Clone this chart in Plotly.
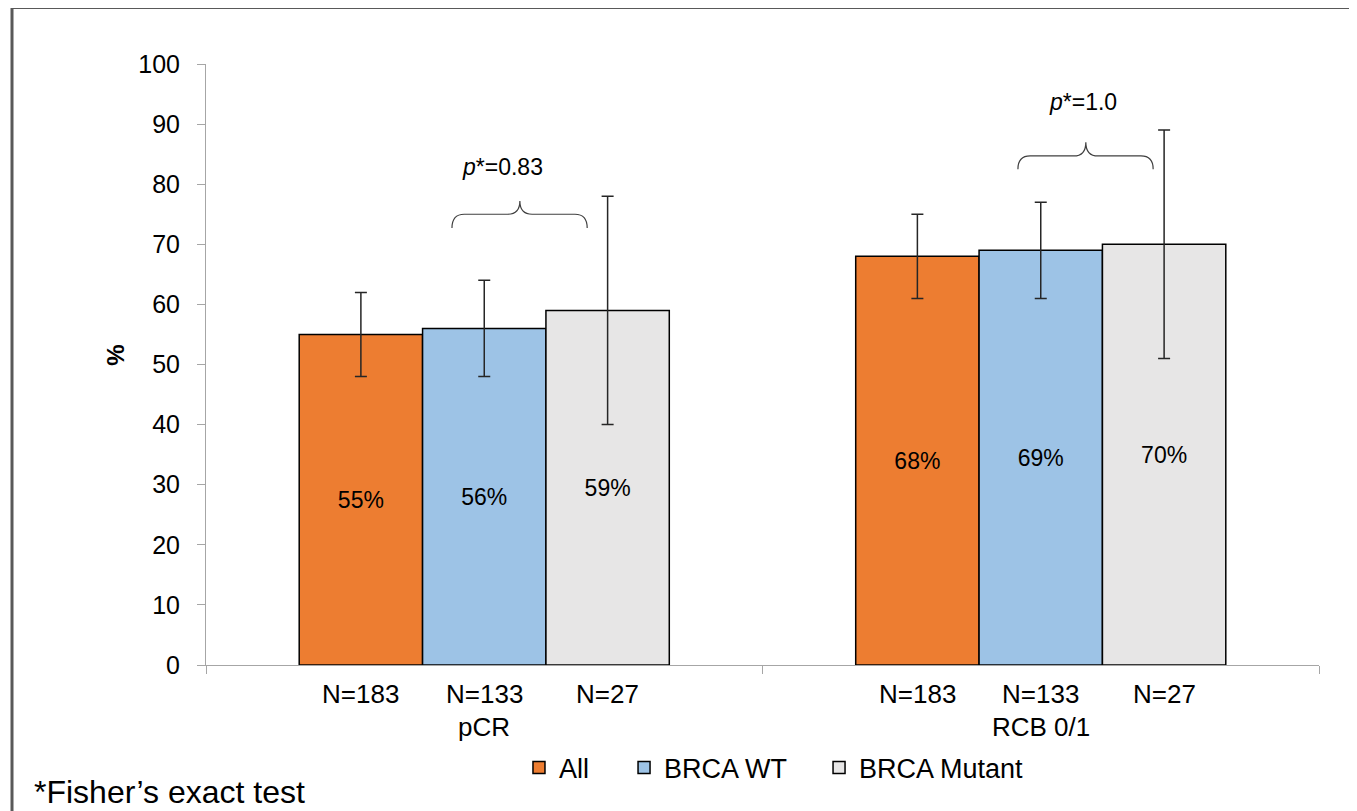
import plotly.graph_objects as go

# ---- data ----
groups = ["pCR", "RCB 0/1"]
series = ["All", "BRCA WT", "BRCA Mutant"]
values = {
    "All": [55, 68],
    "BRCA WT": [56, 69],
    "BRCA Mutant": [59, 70],
}
err_plus = {
    "All": [7, 7],
    "BRCA WT": [8, 8],
    "BRCA Mutant": [19, 19],
}
err_minus = {
    "All": [7, 7],
    "BRCA WT": [8, 8],
    "BRCA Mutant": [19, 19],
}
n_labels = {
    "All": ["N=183", "N=183"],
    "BRCA WT": ["N=133", "N=133"],
    "BRCA Mutant": ["N=27", "N=27"],
}
p_values = ["0.83", "1.0"]
y_ticks = list(range(0, 101, 10))

# ---- styles ----
colors = {"All": "#ED7D31", "BRCA WT": "#9DC3E6", "BRCA Mutant": "#E7E6E6"}
FONT = "Liberation Sans, Arial, sans-serif"
AXIS_GRAY = "#A6A6A6"
BARGAP = 0.335
bar_w = (1 - BARGAP) / len(series)
legend_ids = ["legend", "legend2", "legend3"]
legend_x = [0.2812, 0.3756, 0.5508]

fig = go.Figure()
xs = list(range(len(groups)))
for s, lid in zip(series, legend_ids):
    fig.add_trace(go.Bar(
        name=s,
        x=xs,
        y=values[s],
        legend=lid,
        marker=dict(color=colors[s], line=dict(color="#000000", width=1.5)),
        error_y=dict(type="data", symmetric=False, array=err_plus[s],
                     arrayminus=err_minus[s], color="#262626",
                     thickness=1.5, width=6),
        text=[f"{v}%" for v in values[s]],
        textposition="inside",
        insidetextanchor="middle",
        textangle=0,
        textfont=dict(family=FONT, size=23, color="#000000"),
        cliponaxis=False,
        hoverinfo="skip",
    ))

annotations = []
# N labels under each bar
for j, s in enumerate(series):
    for i, g in enumerate(groups):
        annotations.append(dict(
            x=i + (j - 1) * bar_w, y=-0.0483, xref="x", yref="paper",
            text=n_labels[s][i], showarrow=False,
            xanchor="center", yanchor="middle",
            font=dict(family=FONT, size=26, color="#000000"),
        ))
# group labels
for i, g in enumerate(groups):
    annotations.append(dict(
        x=i, y=-0.1032, xref="x", yref="paper", text=g, showarrow=False,
        xanchor="center", yanchor="middle",
        font=dict(family=FONT, size=26, color="#000000"),
    ))

# braces with p-values
brace_geom = [
    # x0, xm, x1, y_end, y_h, y_tip, text_x, text_y
    (-0.058, 0.064, 0.185, 72.7, 75.0, 77.2, 0.032, 82.9),
    (0.959, 1.081, 1.202, 82.5, 84.7, 87.0, 1.076, 93.7),
]
shapes = []
dx = 0.022
for (x0, xm, x1, ye, yh, yt, tx, ty), pv in zip(brace_geom, p_values):
    path = (f"M {x0},{ye} Q {x0},{yh} {x0+dx},{yh} L {xm-dx},{yh} "
            f"Q {xm},{yh} {xm},{yt} Q {xm},{yh} {xm+dx},{yh} "
            f"L {x1-dx},{yh} Q {x1},{yh} {x1},{ye}")
    shapes.append(dict(type="path", path=path, xref="x", yref="y",
                       line=dict(color="#404040", width=1.2)))
    annotations.append(dict(
        x=tx, y=ty, xref="x", yref="y", text=f"<i>p</i>*={pv}",
        showarrow=False, xanchor="center", yanchor="middle",
        font=dict(family=FONT, size=23, color="#000000"),
    ))

# y-axis title
annotations.append(dict(
    x=-0.0809, y=0.516, xref="paper", yref="paper", text="<b>%</b>",
    textangle=-90, showarrow=False, xanchor="center", yanchor="middle",
    font=dict(family=FONT, size=24, color="#000000"),
))
# footnote
annotations.append(dict(
    x=-0.1563, y=-0.2113, xref="paper", yref="paper",
    text="*Fisher\u2019s exact test", showarrow=False,
    xanchor="left", yanchor="middle",
    font=dict(family=FONT, size=32, color="#000000"),
))

# outer frame (top and left edges visible)
shapes.append(dict(type="line", xref="paper", yref="paper",
                   x0=-0.1743, y0=1.094, x1=1.06, y1=1.094,
                   line=dict(color="#595959", width=3), layer="above"))
shapes.append(dict(type="line", xref="paper", yref="paper",
                   x0=-0.1743, y0=-0.3, x1=-0.1743, y1=1.094,
                   line=dict(color="#595959", width=3), layer="above"))

legend_style = dict(orientation="h", xanchor="left", y=-0.1714,
                    yanchor="middle",
                    font=dict(family=FONT, size=27, color="#000000"),
                    bgcolor="rgba(0,0,0,0)")
legends = {lid: dict(legend_style, x=lx) for lid, lx in zip(legend_ids, legend_x)}

# page body has an 8px default margin, so margins are offset by 8px
fig.update_layout(
    width=1357, height=811,
    margin=dict(l=198, r=46, t=56, b=154),
    paper_bgcolor="white", plot_bgcolor="white",
    barmode="group", bargap=BARGAP, bargroupgap=0,
    font=dict(family=FONT, size=25, color="#000000"),
    showlegend=True,
    xaxis=dict(range=[-0.5, 1.5], tickvals=[-0.5, 0.5, 1.5],
               ticktext=["", "", ""], showticklabels=False,
               ticks="outside", ticklen=8, tickcolor=AXIS_GRAY,
               showline=True, linecolor=AXIS_GRAY, linewidth=1,
               showgrid=False, zeroline=False, fixedrange=True),
    yaxis=dict(range=[0, 100], tickvals=y_ticks,
               ticks="outside", ticklen=8, tickcolor=AXIS_GRAY,
               showline=True, linecolor=AXIS_GRAY, linewidth=1,
               showgrid=False, zeroline=False,
               tickfont=dict(family=FONT, size=25, color="#000000"),
               ticklabelstandoff=12, fixedrange=True),
    annotations=annotations,
    shapes=shapes,
    **legends,
)

fig.write_html("out.html")
